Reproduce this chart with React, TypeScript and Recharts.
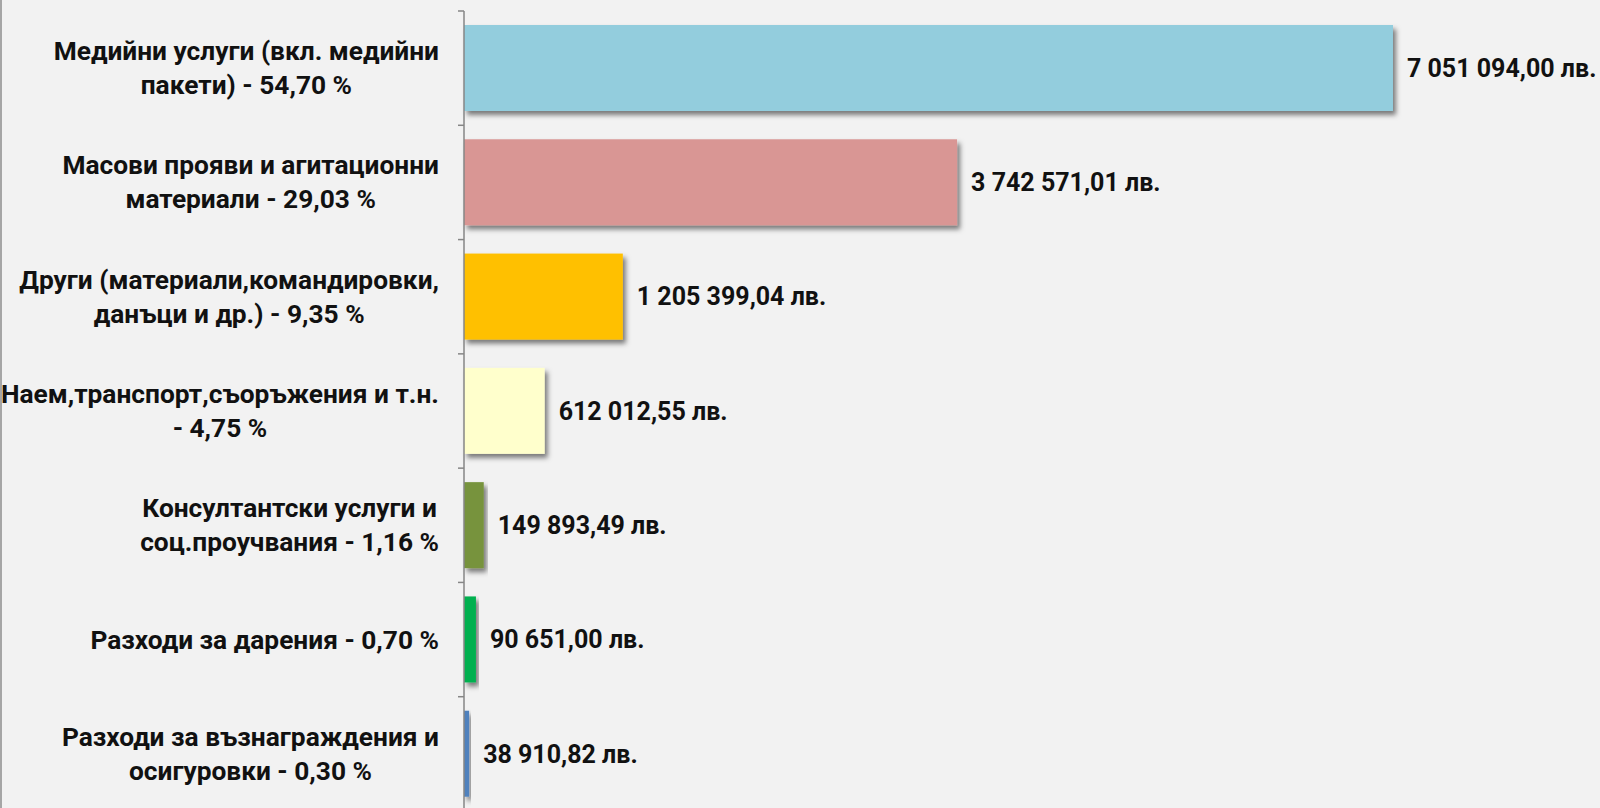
import React from 'react';
import { BarChart, Bar, XAxis, YAxis, Cell, LabelList } from 'recharts';

const CATEGORY_LINES: string[][] = [
  ['Медийни услуги (вкл. медийни', 'пакети) - 54,70 %'],
  ['Масови прояви и агитационни', 'материали - 29,03 %'],
  ['Други (материали,командировки,', 'данъци и др.) - 9,35 %'],
  ['Наем,транспорт,съоръжения и т.н.', '- 4,75 %'],
  ['Консултантски услуги и', 'соц.проучвания - 1,16 %'],
  ['Разходи за дарения - 0,70 %'],
  ['Разходи за възнаграждения и', 'осигуровки - 0,30 %'],
];
const VALUES: number[] = [7051094.0, 3742571.01, 1205399.04, 612012.55, 149893.49, 90651.0, 38910.82];
const COLORS: string[] = ['#93CDDD', '#D99694', '#FFC000', '#FFFFCC', '#77933C', '#00B050', '#4F81BD'];
const X_MAX = 8000000;

const data = CATEGORY_LINES.map((lines, i) => ({ key: String(i), value: VALUES[i] }));

const FONT = 'Roboto, "Noto Sans", sans-serif';
const FS = 25;
const CAT_FS = 26.3;
const LINE_H = 34;

let measureCtx: CanvasRenderingContext2D | null = null;
const measure = (s: string) => {
  if (!measureCtx) {
    const c = document.createElement('canvas');
    measureCtx = c.getContext('2d');
  }
  if (!measureCtx) return s.length * CAT_FS * 0.5;
  measureCtx.font = `700 ${CAT_FS}px Roboto`;
  return measureCtx.measureText(s).width;
};

const fmt = (v: number) => {
  const [i, d] = v.toFixed(2).split('.');
  return i.replace(/\B(?=(\d{3})+(?!\d))/g, ' ') + ',' + d + ' лв.';
};

const CategoryTick = (props: any) => {
  const { x, y, payload, height, visibleTicksCount } = props;
  const idx = Number(payload.value);
  const lines = CATEGORY_LINES[idx] || [];
  const n = visibleTicksCount || CATEGORY_LINES.length;
  const band = (height || 800) / n;
  const axisX = x + 8;
  const right = axisX - 25;
  const maxW = Math.max(...lines.map(measure));
  const cx = right - maxW / 2;
  const startY = y - ((lines.length - 1) * LINE_H) / 2;
  const by = y - band / 2;
  return (
    <g>
      <line x1={axisX - 6} y1={by} x2={axisX} y2={by} stroke="#868686" strokeWidth={1.5} />
      <text
        x={cx}
        y={startY}
        textAnchor="middle"
        dominantBaseline="central"
        fontFamily={FONT}
        fontWeight={700}
        fontSize={CAT_FS}
        fill="#111"
      >
        {lines.map((l, i) => (
          <tspan key={i} x={cx} y={startY + i * LINE_H}>
            {l}
          </tspan>
        ))}
      </text>
    </g>
  );
};

const ShadowBar = (props: any) => {
  const { x, y, width, height, fill } = props;
  return <rect x={x} y={y} width={width} height={height} fill={fill} filter="url(#barShadow)" />;
};

export default function App() {
  return (
    <div
      style={{
        position: 'fixed',
        left: 0,
        top: 0,
        width: 1600,
        height: 808,
        overflow: 'hidden',
        background: '#F2F2F2',
      }}
    >
      <svg width={0} height={0} style={{ position: 'absolute' }}>
        <defs>
          <filter id="barShadow" x="-10%" y="-10%" width="130%" height="140%">
            <feDropShadow dx={3} dy={4} stdDeviation={2.5} floodColor="#000" floodOpacity={0.5} />
          </filter>
        </defs>
      </svg>
      <div style={{ position: 'absolute', left: 0, top: 0, width: 2, height: 808, background: '#A6A6A6' }} />
      <BarChart
        width={1600}
        height={811}
        data={data}
        layout="vertical"
        margin={{ top: 11, right: 82, bottom: 0, left: 0 }}
      >
        <XAxis type="number" domain={[0, X_MAX]} hide />
        <YAxis
          type="category"
          dataKey="key"
          width={464}
          axisLine={{ stroke: '#868686', strokeWidth: 1.5 }}
          tickLine={false}
          tickSize={6}
          tickMargin={2}
          tick={<CategoryTick />}
          interval={0}
        />
        <Bar dataKey="value" barSize={86} isAnimationActive={false} shape={<ShadowBar />}>
          {data.map((d, i) => (
            <Cell key={d.key} fill={COLORS[i]} />
          ))}
          <LabelList
            dataKey="value"
            position="right"
            offset={14}
            formatter={(v: any) => fmt(Number(v))}
            fill="#111"
            fontFamily={FONT}
            fontWeight={700}
            fontSize={FS}
          />
        </Bar>
      </BarChart>
    </div>
  );
}
